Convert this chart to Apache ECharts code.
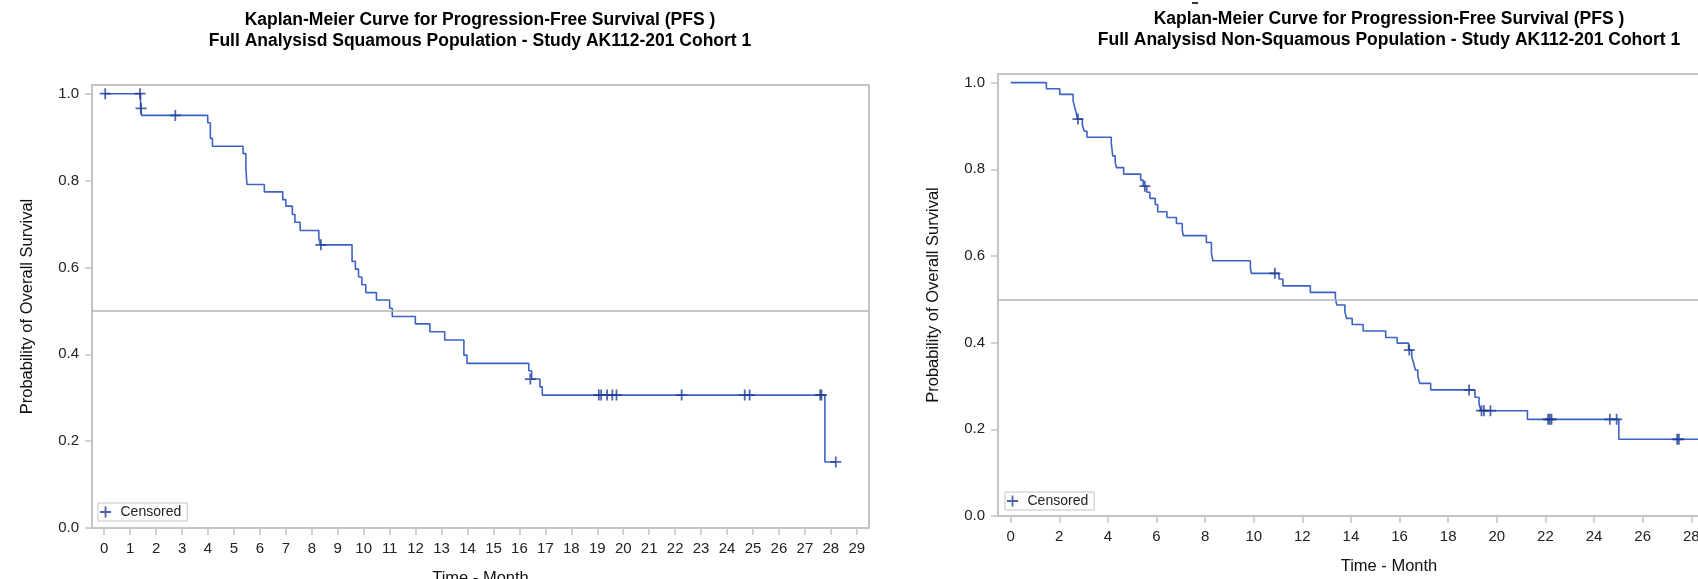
<!DOCTYPE html>
<html>
<head>
<meta charset="utf-8">
<style>
  html, body { margin: 0; padding: 0; background: #fff; }
  #chart-panel { width: 1698px; height: 579px; }
</style>
<script src="https://cdn.jsdelivr.net/npm/echarts@6/dist/echarts.min.js"></script>
</head>
<body>
<div id="chart-panel"></div>
<script type="text/javascript">
// squamous population - KM step points (month, survival)
var sqTime = [0, 1.40, 1.44, 3.99, 4.09, 4.17, 5.35, 5.46, 5.50, 6.17, 6.88, 7.00, 7.25, 7.35, 7.55,
  8.27, 8.33, 9.55, 9.68, 9.80, 9.93, 10.08, 10.49, 11.00, 11.10, 11.99, 12.55, 13.12, 13.86, 13.98,
  16.36, 16.47, 16.79, 16.88, 27.77, 28.19];
var sqSurv = [1.0, 0.966, 0.950, 0.933, 0.897, 0.879, 0.862, 0.827, 0.791, 0.774, 0.756, 0.741, 0.722, 0.704, 0.685,
  0.668, 0.652, 0.614, 0.596, 0.578, 0.560, 0.542, 0.525, 0.506, 0.487, 0.470, 0.452, 0.433, 0.398, 0.379,
  0.362, 0.343, 0.325, 0.306, 0.152, 0.152];
var sqCensTime = [0.04, 1.38, 1.42, 2.74, 8.35, 16.42, 19.06, 19.15, 19.38, 19.58, 19.74, 22.25, 24.68, 24.87, 27.59, 27.64, 28.19];
var sqCensSurv = [1.0, 1.0, 0.966, 0.950, 0.652, 0.343, 0.306, 0.306, 0.306, 0.306, 0.306, 0.306, 0.306, 0.306, 0.306, 0.306, 0.152];
var sqTicks = [0, 1, 2, 3, 4, 5, 6, 7, 8, 9, 10, 11, 12, 13, 14, 15, 16, 17, 18, 19, 20, 21, 22, 23, 24, 25, 26, 27, 28, 29];

// non-squamous population
var nsTime = [0, 1.47, 2.02, 2.57, 2.63, 2.70, 2.75, 2.95, 3.03, 3.14, 4.14, 4.17, 4.20, 4.30, 4.35, 4.65,
  5.35, 5.45, 5.60, 5.73, 5.95, 6.05, 6.43, 6.82, 7.06, 7.10, 8.05, 8.26, 8.32, 9.86, 9.90, 11.04, 11.20,
  12.33, 13.36, 13.42, 13.75, 13.82, 14.05, 14.50, 15.43, 15.90, 16.37, 16.50, 16.58, 16.65, 16.75, 16.83,
  17.28, 19.10, 19.27, 19.35, 21.26, 25.02, 28.60];
var nsSurv = [1.0, 0.986, 0.973, 0.958, 0.944, 0.930, 0.916, 0.902, 0.888, 0.874, 0.860, 0.846, 0.831, 0.818, 0.804, 0.789,
  0.775, 0.761, 0.747, 0.733, 0.719, 0.702, 0.689, 0.675, 0.661, 0.647, 0.631, 0.606, 0.589, 0.574, 0.560, 0.547, 0.531,
  0.516, 0.501, 0.487, 0.471, 0.456, 0.442, 0.427, 0.412, 0.399, 0.383, 0.368, 0.352, 0.337, 0.323, 0.306,
  0.291, 0.274, 0.258, 0.243, 0.223, 0.177, 0.177];
var nsCensTime = [2.77, 5.52, 10.87, 16.40, 18.86, 19.37, 19.47, 19.74, 22.11, 22.18, 22.25, 24.65, 24.93, 27.42, 27.49];
var nsCensSurv = [0.916, 0.761, 0.560, 0.383, 0.291, 0.243, 0.243, 0.243, 0.223, 0.223, 0.223, 0.223, 0.223, 0.177, 0.177];
var nsTicks = [0, 2, 4, 6, 8, 10, 12, 14, 16, 18, 20, 22, 24, 26, 28, 30];

var yTicks = [0, 0.2, 0.4, 0.6, 0.8, 1.0];

var sqTitle = ['Kaplan-Meier Curve for Progression-Free Survival (PFS )',
  'Full Analysisd Squamous Population - Study AK112-201 Cohort 1'];
var nsTitle = ['Kaplan-Meier Curve for Progression-Free Survival (PFS )',
  'Full Analysisd Non-Squamous Population - Study AK112-201 Cohort 1'];

function zip(a, b) {
  return a.map(function (v, i) { return [v, b[i]]; });
}

var plus = 'path://M4.2,0h1.6v4.2h4.2v1.6h-4.2v4.2h-1.6v-4.2h-4.2v-1.6h4.2z';
var lineColor = '#3d63c6';
var markColor = '#1f3b97';
var frameColor = '#c4c4c4';
var font = '"Liberation Sans", Arial, sans-serif';

function xAxisFor(idx, min, max, ticks, gap) {
  return {
    gridIndex: idx, type: 'value', min: min, max: max,
    name: 'Time - Month', nameLocation: 'middle', nameGap: gap,
    nameTextStyle: { fontSize: 16.5, color: '#111', fontFamily: font },
    axisLine: { show: true, onZero: false, lineStyle: { color: frameColor, width: 2 } },
    axisTick: { show: true, customValues: ticks, length: 7, lineStyle: { color: frameColor, width: 1.5 } },
    axisLabel: { customValues: ticks, margin: 13, fontSize: 15, color: '#222', fontFamily: font },
    splitLine: { show: false }
  };
}
function yAxisFor(idx) {
  return {
    gridIndex: idx, type: 'value', min: 0, max: 1.02,
    name: 'Probability of Overall Survival', nameLocation: 'middle', nameGap: 56, nameRotate: 90,
    nameTextStyle: { fontSize: 16.5, color: '#111', fontFamily: font },
    axisLine: { show: true, onZero: false, lineStyle: { color: frameColor, width: 2 } },
    axisTick: { show: true, customValues: yTicks, length: 7, lineStyle: { color: frameColor, width: 1.5 } },
    axisLabel: {
      customValues: yTicks, margin: 13, fontSize: 15, color: '#222', fontFamily: font,
      formatter: function (v) { return v.toFixed(1); }
    },
    splitLine: { show: false }
  };
}
function legendFor(left, top) {
  return {
    data: ['Censored'], left: left, top: top, icon: plus,
    itemWidth: 20, itemHeight: 11, padding: [1, 6, 1, 2],
    borderColor: frameColor, borderWidth: 1,
    itemStyle: { color: markColor },
    textStyle: { fontSize: 14, lineHeight: 16, color: '#222', fontFamily: font }
  };
}
function curve(idx, data) {
  return {
    type: 'line', xAxisIndex: idx, yAxisIndex: idx, step: 'end', data: data,
    showSymbol: false, z: 3,
    lineStyle: { color: lineColor, width: 1.6 },
    markLine: {
      silent: true, symbol: ['none', 'none'], label: { show: false },
      lineStyle: { color: '#b4b4b4', type: 'solid', width: 1.5 },
      data: [{ yAxis: 0.5 }]
    }
  };
}
function censored(idx, data) {
  return {
    name: 'Censored', type: 'scatter', xAxisIndex: idx, yAxisIndex: idx, data: data,
    symbol: plus, symbolSize: 11, z: 4,
    itemStyle: { color: markColor }
  };
}
function titleText(x, y, txt) {
  return {
    type: 'text', x: x, y: y, silent: true,
    style: {
      text: txt, font: 'bold 17.5px ' + font, fill: '#000',
      textAlign: 'center', textVerticalAlign: 'middle', align: 'center', verticalAlign: 'middle'
    }
  };
}

var myChart = echarts.init(document.getElementById('chart-panel'));
var option = {
  animation: false,
  backgroundColor: '#fff',
  grid: [
    { left: 92, top: 85, width: 777, height: 443, show: true, borderColor: frameColor, borderWidth: 2,
      outerBoundsMode: 'none', containLabel: false },
    { left: 998, top: 74, width: 782, height: 442, show: true, borderColor: frameColor, borderWidth: 2,
      outerBoundsMode: 'none', containLabel: false }
  ],
  xAxis: [xAxisFor(0, -0.47, 29.47, sqTicks, 42), xAxisFor(1, -0.52, 31.65, nsTicks, 42)],
  yAxis: [yAxisFor(0), yAxisFor(1)],
  legend: [legendFor(98, 503), legendFor(1005, 492)],
  graphic: [
    titleText(480, 20, sqTitle[0]),
    titleText(480, 41, sqTitle[1]),
    titleText(1389, 19, nsTitle[0]),
    titleText(1389, 40, nsTitle[1]),
    { type: 'rect', shape: { x: 1192, y: 2, width: 6, height: 2 }, style: { fill: '#333' }, silent: true }
  ],
  series: [
    curve(0, zip(sqTime, sqSurv)),
    censored(0, zip(sqCensTime, sqCensSurv)),
    curve(1, zip(nsTime, nsSurv)),
    censored(1, zip(nsCensTime, nsCensSurv))
  ]
};
myChart.setOption(option);
</script>
</body>
</html>
